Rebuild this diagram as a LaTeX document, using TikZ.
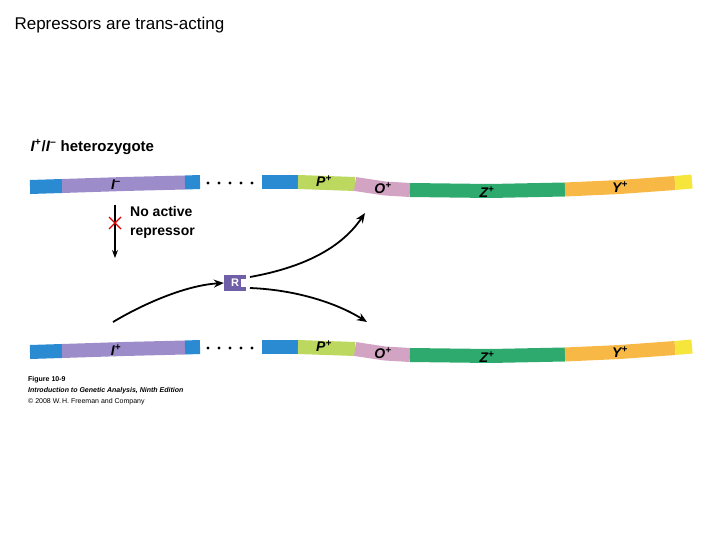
\documentclass[tikz,border=0pt]{standalone}
\usepackage{fontspec}
\setmainfont{Liberation Sans}
\usetikzlibrary{arrows.meta}
\newcommand{\sps}[1]{\textsuperscript{#1}}
\begin{document}
\begin{tikzpicture}[x=1pt,y=-1pt,
  seg/.style={line width=14pt,line cap=butt,line join=round},
  glab/.style={font=\bfseries\itshape\fontsize{14}{14}\selectfont},
  arr/.style={-{Stealth[length=10pt,width=8pt]},line width=1.8pt},
  captxt/.style={anchor=west,font=\fontsize{7}{8}\selectfont,inner sep=0pt}]
\definecolor{cblue}{HTML}{2A8AD2}
\definecolor{cpurp}{HTML}{9C8CCA}
\definecolor{clime}{HTML}{BCD85E}
\definecolor{cpink}{HTML}{D3A3C3}
\definecolor{cgreen}{HTML}{2FAA6E}
\definecolor{corange}{HTML}{F7B845}
\definecolor{cyellow}{HTML}{F6E63C}
\definecolor{rbox}{HTML}{6E5FA8}
\useasboundingbox (0,0) rectangle (720,540);
\node[anchor=west,font=\fontsize{17}{17}\selectfont] (title) at (11,25) {Repressors are trans-acting};
\node[anchor=west,font=\bfseries\fontsize{15}{15}\selectfont] (het) at (27,147) {\textit{I}\sps{+}/\textit{I}\sps{--} heterozygote};
\foreach \o in {0,165}{
 \begin{scope}[yshift=-\o pt]
  \draw[seg,cblue] (30,187) -- (62,186);
  \draw[seg,cpurp] (62,186) -- (124,184) -- (185,182.5);
  \draw[seg,cblue] (185,182.5) -- (200,182);
  \foreach \d in {208,219,230,241,252} \fill (\d,183) circle (1.7);
  \draw[seg,cblue] (262,182) -- (298,182);
  \draw[seg,clime] (298,182) -- (355,184);
  \draw[seg,cpink] (355,184) -- (385,188.5) -- (410,190);
  \draw[seg,cgreen] (410,190) -- (490,191) -- (565,189.5);
  \draw[seg,corange] (565,189.5) -- (620,187) -- (675,183);
  \draw[seg,cyellow] (675,183) -- (692,181.5);
 \end{scope}}
\node[glab] (It) at (116,185) {I\sps{--}};
\node[glab] (Pt) at (324,181) {P\sps{+}};
\node[glab] (Ot) at (383,188) {O\sps{+}};
\node[glab] (Zt) at (487,192) {Z\sps{+}};
\node[glab] (Yt) at (620,187) {Y\sps{+}};
\node[glab] (Ib) at (116,350) {I\sps{+}};
\node[glab] (Pb) at (324,346) {P\sps{+}};
\node[glab] (Ob) at (383,353) {O\sps{+}};
\node[glab] (Zb) at (487,357) {Z\sps{+}};
\node[glab] (Yb) at (620,352) {Y\sps{+}};
\coordinate (d1) at (115,205);
\coordinate (d2) at (115,258);
\draw[-{Stealth[length=8pt,width=6pt]},line width=1.1pt] (d1) -- (d2);
\draw[red!85!black,line width=1.3pt] (109,217) -- (121,229) (121,217) -- (109,229);
\node[anchor=north west,align=left,font=\bfseries\fontsize{14}{19}\selectfont,inner sep=0pt] (na) at (130,206) {No active\\repressor};
\node[fill=rbox,text=white,font=\bfseries\fontsize{11}{11}\selectfont,minimum width=22pt,minimum height=16pt,inner sep=0pt] (R) at (235,283) {R\hspace{6pt}};
\fill[white] (241,279) rectangle (247,287);
\coordinate (s) at (113,322);
\coordinate (e1) at (365,213);
\coordinate (e2) at (367,322);
\draw[arr] (s) .. controls (150,300) and (190,285) .. (R.west);
\draw[arr] (250,277) .. controls (300,268) and (340,250) .. (e1);
\draw[arr] (250,288) .. controls (300,290) and (340,305) .. (e2);
\node[captxt,font=\bfseries\fontsize{7}{8}\selectfont] (f1) at (28,380) {Figure 10-9};
\node[captxt,font=\bfseries\itshape\fontsize{7}{8}\selectfont] (f2) at (28,391) {Introduction to Genetic Analysis, Ninth Edition};
\node[captxt] (f3) at (28,402) {\textcopyright\ 2008 W.\,H. Freeman and Company};
\end{tikzpicture}
\end{document}
